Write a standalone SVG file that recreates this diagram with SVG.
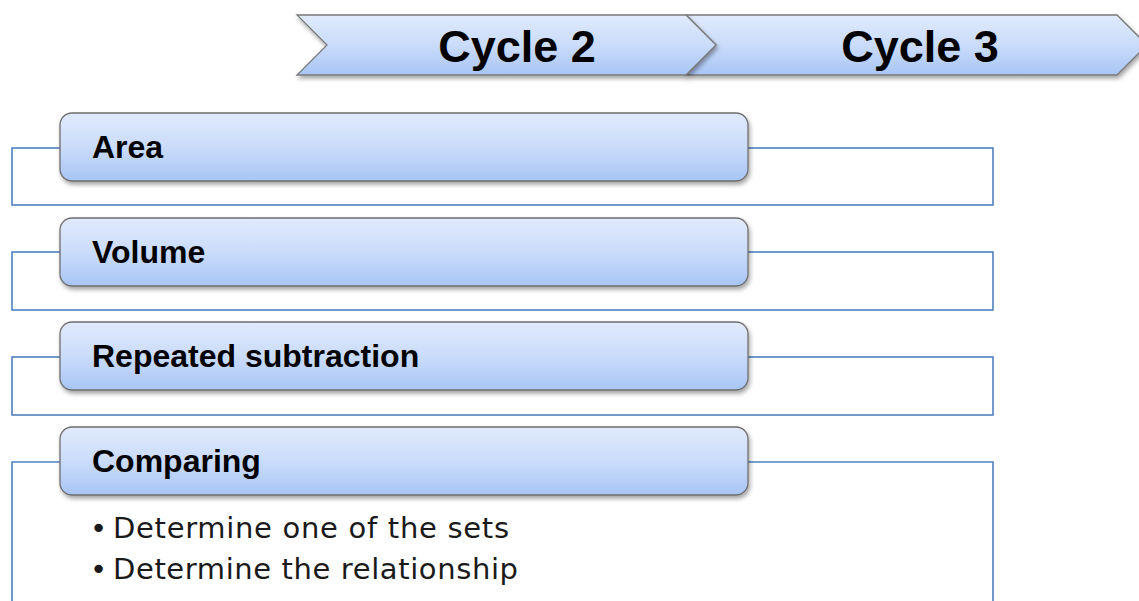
<svg xmlns="http://www.w3.org/2000/svg" width="1139" height="601" viewBox="0 0 1139 601">
<style>
.frame{fill:none;stroke:#4f81bd;stroke-width:1.6}
.node{stroke:#6e6e6e;stroke-width:1.3;fill:url(#g);filter:url(#sh)}
.chev{stroke:#7a7a7a;stroke-width:1.3;fill:url(#g);filter:url(#sh)}
.h{font-family:"Liberation Sans",Arial,sans-serif;font-weight:bold;font-size:32px;fill:#000}
.c{font-family:"Liberation Sans",Arial,sans-serif;font-weight:bold;font-size:45px;fill:#000;text-anchor:middle}
.b{font-family:"DejaVu Sans","Liberation Sans",sans-serif;font-size:29px;fill:#1a1a1a}
</style>
<defs>
<linearGradient id="g" x1="0" y1="0" x2="0" y2="1">
<stop offset="0" stop-color="#e0eafc"/>
<stop offset="0.5" stop-color="#cadcfa"/>
<stop offset="1" stop-color="#a8c5f6"/>
</linearGradient>
<filter id="sh" x="-5%" y="-20%" width="110%" height="150%">
<feDropShadow dx="1.5" dy="3" stdDeviation="2" flood-color="#000" flood-opacity="0.35"/>
</filter>
</defs>
<g id="connectors">
<rect class="frame" x="12" y="148" width="981" height="57"/>
<rect class="frame" x="12" y="252" width="981" height="58"/>
<rect class="frame" x="12" y="357" width="981" height="58"/>
<path class="frame" d="M12,610 V462 H993 V610"/>
</g>
<g id="cycle3">
<path class="chev" d="M686,15 H1117 L1147,45 L1117,75 H686 L716,45 Z"/>
<text class="c" x="920" y="62">Cycle 3</text>
</g>
<g id="cycle2">
<path class="chev" d="M297,15 H686 L716,45 L686,75 H297 L327,45 Z"/>
<text class="c" x="517" y="62">Cycle 2</text>
</g>
<g id="area">
<rect class="node" x="60" y="113" width="688" height="68" rx="12"/>
<text class="h" x="92" y="158">Area</text>
</g>
<g id="volume">
<rect class="node" x="60" y="218" width="688" height="68" rx="12"/>
<text class="h" x="92" y="263">Volume</text>
</g>
<g id="repeated">
<rect class="node" x="60" y="322" width="688" height="68" rx="12"/>
<text class="h" x="92" y="367">Repeated subtraction</text>
</g>
<g id="comparing">
<rect class="node" x="60" y="427" width="688" height="68" rx="12"/>
<text class="h" x="92" y="472">Comparing</text>
<text class="b" y="538"><tspan x="90">•</tspan><tspan x="113" textLength="396" lengthAdjust="spacing">Determine one of the sets</tspan></text>
<text class="b" y="579"><tspan x="90">•</tspan><tspan x="113" textLength="405" lengthAdjust="spacing">Determine the relationship</tspan></text>
</g>
</svg>
